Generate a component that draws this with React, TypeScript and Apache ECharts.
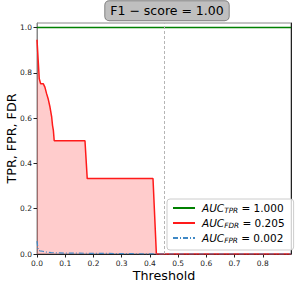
import React, { useEffect, useRef } from "react";
import * as echarts from "echarts";

const fdrThresholds = [0, 0.008, 0.013, 0.022, 0.028, 0.034, 0.04, 0.046, 0.052, 0.055, 0.058, 0.061, 0.17, 0.178, 0.411, 0.423, 0.9];
const fdrValues = [0.946, 0.774, 0.752, 0.752, 0.737, 0.708, 0.683, 0.649, 0.605, 0.568, 0.546, 0.5, 0.5, 0.333, 0.333, 0, 0];

const tprThresholds = [0, 0.9];
const tprValues = [1, 1];

const fprThresholds = [0, 0.004, 0.01, 0.02, 0.03, 0.05, 0.1, 0.2, 0.3, 0.423, 0.9];
const fprValues = [0.057, 0.018, 0.014, 0.012, 0.009, 0.006, 0.004, 0.003, 0.002, 0, 0];

const xTicks = [0, 0.1, 0.2, 0.3, 0.4, 0.5, 0.6, 0.7, 0.8];
const yTicks = [0, 0.2, 0.4, 0.6, 0.8, 1.0];
const bestThreshold = 0.45;
const titleText = "F1 − score = 1.00";
const legendNames = ["TPR", "FDR", "FPR"];
const aucValues = ["1.000", "0.205", "0.002"];

const FONT = "DejaVu Sans";

function pairs(xs: number[], ys: number[]) {
  return xs.map((x, i) => [x, ys[i]]);
}

export default function App() {
  const ref = useRef<HTMLDivElement>(null);
  useEffect(() => {
    if (!ref.current) return;
    const chart = echarts.init(ref.current, null, { renderer: "svg" });
    const names = legendNames.map((n, i) => `AUC_${n} = ${aucValues[i]}`);
    chart.setOption({
      animation: false,
      grid: {
        left: 37, right: 16, top: 23, bottom: 29, show: true, borderColor: "#888", borderWidth: 1,
        containLabel: false, outerBoundsMode: "none",
      },
      graphic: [
        {
          type: "text",
          x: 167,
          y: 10.7,
          style: {
            text: titleText,
            fontSize: 12.5,
            fontFamily: FONT,
            fill: "#000",
            backgroundColor: "#bfbfbf",
            borderColor: "#7f7f7f",
            borderWidth: 1,
            borderRadius: 4,
            padding: [3, 5, 3, 5],
            align: "center",
            verticalAlign: "middle",
          },
        },
      ],
      legend: {
        orient: "vertical",
        left: 167,
        top: 199,
        itemWidth: 22,
        itemHeight: 10,
        itemGap: 3,
        padding: [3, 9, 6, 5],
        borderColor: "#ccc",
        borderWidth: 1,
        borderRadius: 3,
        backgroundColor: "rgba(255,255,255,0.8)",
        itemStyle: { opacity: 0 },
        data: names,
        formatter: (name: string) => {
          const i = names.indexOf(name);
          return `{a|AUC}{b|${legendNames[i]}}{c| = ${aucValues[i]}}`;
        },
        textStyle: {
          fontFamily: FONT,
          color: "#000",
          padding: [0, 0, 0, 2],
          rich: {
            a: { fontFamily: FONT, fontSize: 10.5, fontStyle: "italic", lineHeight: 14, color: "#000" },
            b: { fontFamily: FONT, fontSize: 7.3, fontStyle: "italic", lineHeight: 9, padding: [5, 0, 0, 0], color: "#000" },
            c: { fontFamily: FONT, fontSize: 10.5, lineHeight: 14, color: "#000" },
          },
        },
      },
      xAxis: {
        type: "value",
        min: 0,
        max: 0.9,
        name: "Threshold",
        nameLocation: "middle",
        nameGap: 14.5,
        nameMoveOverlap: false,
        nameTextStyle: { fontFamily: FONT, fontSize: 12.7, color: "#000" },
        splitLine: { show: false },
        axisLine: { show: true, lineStyle: { color: "#222", width: 1 } },
        axisTick: { show: true, length: 3.5, customValues: xTicks, lineStyle: { color: "#222" } },
        axisLabel: {
          customValues: xTicks,
          formatter: (v: number) => v.toFixed(1),
          fontFamily: FONT,
          fontSize: 7.5,
          color: "#222",
          margin: 5,
        },
      },
      yAxis: [
        {
          type: "value",
          min: 0,
          max: 1.02,
          name: "TPR, FPR, FDR",
          nameLocation: "middle",
          nameGap: 19,
          nameMoveOverlap: false,
          nameTextStyle: { fontFamily: FONT, fontSize: 12.7, color: "#000" },
          splitLine: { show: false },
          axisLine: { show: true, lineStyle: { color: "#888", width: 1 } },
          axisTick: { show: true, length: 3.5, customValues: yTicks, lineStyle: { color: "#222" } },
          axisLabel: {
            customValues: yTicks,
            formatter: (v: number) => v.toFixed(1),
            fontFamily: FONT,
            fontSize: 7.5,
            color: "#222",
            margin: 5,
          },
        },
        {
          type: "value",
          min: 0,
          max: 1.02,
          position: "right",
          splitLine: { show: false },
          axisLine: { show: true, lineStyle: { color: "#222", width: 1 } },
          axisTick: { show: false },
          axisLabel: { show: false },
        },
      ],
      series: [
        {
          name: names[1],
          type: "line",
          data: pairs(fdrThresholds, fdrValues),
          symbol: "none",
          lineStyle: { color: "#ff1a1a", width: 1.5 },
          itemStyle: { color: "#ff1a1a" },
          areaStyle: { color: "rgba(255,0,0,0.2)", opacity: 1 },
          z: 2,
        },
        {
          name: names[0],
          type: "line",
          data: pairs(tprThresholds, tprValues),
          symbol: "none",
          lineStyle: { color: "#008000", width: 1.5 },
          itemStyle: { color: "#008000" },
          z: 3,
          markLine: {
            symbol: "none",
            silent: true,
            label: { show: false },
            lineStyle: { type: [3, 2], color: "#b5b5b5", width: 1 },
            data: [{ xAxis: bestThreshold }],
          },
        },
        {
          name: names[2],
          type: "line",
          data: pairs(fprThresholds, fprValues),
          symbol: "none",
          lineStyle: { color: "#3f88c5", width: 1.2, type: [5, 2, 1, 2] },
          itemStyle: { color: "#3f88c5" },
          z: 4,
        },
      ],
    });
    return () => chart.dispose();
  }, []);
  return <div ref={ref} style={{ width: 307, height: 283, position: "absolute", left: 0, top: 0 }} />;
}
